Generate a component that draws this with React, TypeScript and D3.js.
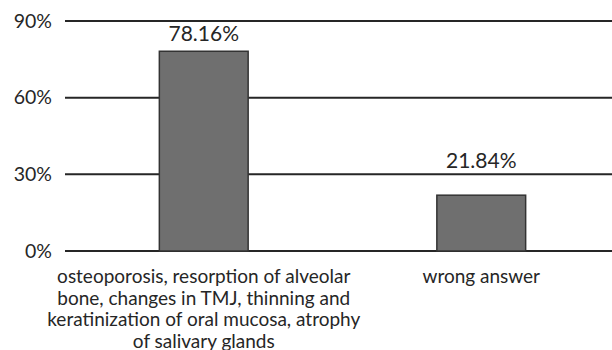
import React from "react";
import * as d3 from "d3";

const categories = [
  "osteoporosis, resorption of alveolar bone, changes in TMJ, thinning and keratinization of oral mucosa, atrophy of salivary glands",
  "wrong answer",
];
const values = [78.16, 21.84];
const valueLabels = ["78.16%", "21.84%"];
const tickValues = [0, 30, 60, 90];
const categoryLines = [
  ["osteoporosis, resorption of alveolar", "bone, changes in TMJ, thinning and", "keratinization of oral mucosa, atrophy", "of salivary glands"],
  ["wrong answer"],
];

const W = 612;
const H = 350;
const FONT = "Lato, 'Open Sans', sans-serif";
// distance from bar top to value label baseline, per bar
const LABEL_GAP = [10, 27];

export default function App() {
  const x = d3
    .scaleBand<string>()
    .domain(categories)
    .range([65, 620])
    .paddingInner(0.68)
    .paddingOuter(0.34);
  const y = d3.scaleLinear().domain([0, 90]).range([251, 21]);
  const bw = x.bandwidth();

  return (
    <svg
      width={W}
      height={H}
      style={{ position: "absolute", left: 0, top: 0, background: "#fff" }}
      fontFamily={FONT}
    >
      {tickValues.map((t) => (
        <g key={t}>
          <line x1={65} x2={W} y1={y(t)} y2={y(t)} stroke="#262626" strokeWidth={2} />
          <text x={52} y={y(t)} dy="0.35em" textAnchor="end" fontSize={19.5} fill="#262626">
            {t}%
          </text>
        </g>
      ))}
      {categories.map((c, i) => {
        const x0 = x(c)!;
        return (
          <g key={c}>
            <rect
              x={x0}
              y={y(values[i])}
              width={bw}
              height={y(0) - y(values[i])}
              fill="#6f6f6f"
              stroke="#333"
              strokeWidth={1.5}
            />
            <text
              x={x0 + bw / 2}
              y={y(values[i]) - LABEL_GAP[i]}
              textAnchor="middle"
              fontSize={21}
              fill="#262626"
            >
              {valueLabels[i]}
            </text>
            {categoryLines[i].map((ln, j) => (
              <text
                key={j}
                x={x0 + bw / 2}
                y={283 + j * 21.7}
                textAnchor="middle"
                fontSize={19}
                fill="#262626"
              >
                {ln}
              </text>
            ))}
          </g>
        );
      })}
    </svg>
  );
}
